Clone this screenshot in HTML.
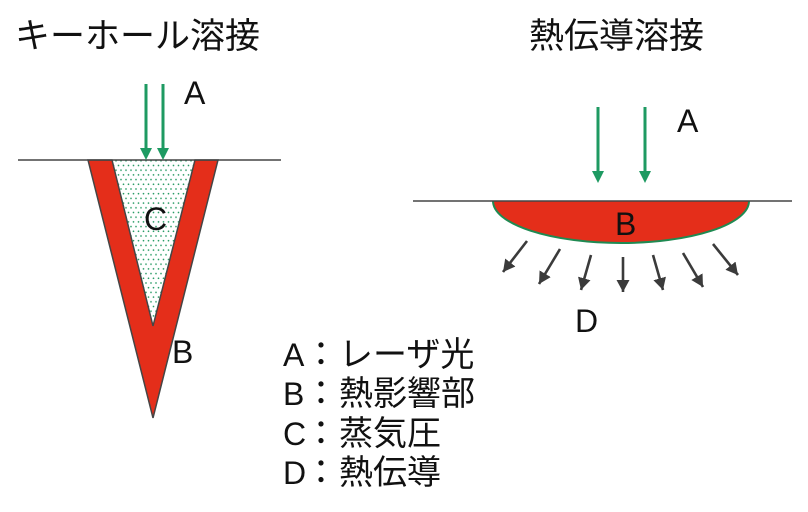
<!DOCTYPE html>
<html><head><meta charset="utf-8"><style>
html,body{margin:0;padding:0;background:#fff;}
svg{display:block;}
text{font-family:"Liberation Sans","Noto Sans CJK JP",sans-serif;fill:#111;}
</style></head><body>
<svg width="808" height="512" viewBox="0 0 808 512" xmlns="http://www.w3.org/2000/svg">
<defs>
<pattern id="dots" x="0" y="0" width="5" height="9.4" patternUnits="userSpaceOnUse">
<circle cx="1" cy="1" r="0.85" fill="#2a9c66"/>
<circle cx="3.5" cy="5.7" r="0.85" fill="#2a9c66"/>
</pattern>
<marker id="ga" markerUnits="userSpaceOnUse" markerWidth="16" markerHeight="16" refX="12" refY="6.5" orient="auto">
<path d="M0,0 L12,6.5 L0,13 z" fill="#3b3b3b"/>
</marker>
</defs>

<!-- Titles -->
<text x="15" y="48" font-size="35">キーホール溶接</text>
<text x="529" y="48" font-size="35">熱伝導溶接</text>

<!-- Left keyhole -->
<polygon points="112,160 195,160 153,326" fill="url(#dots)"/>
<polygon points="88,160 112,160 153,326 195,160 218,160 153,418" fill="#e42e1a" stroke="#454545" stroke-width="1.5" stroke-linejoin="miter"/>
<line x1="18" y1="160" x2="281" y2="160" stroke="#454545" stroke-width="1.6"/>
<!-- green arrows left -->
<line x1="146" y1="84" x2="146" y2="150" stroke="#1e9a62" stroke-width="3"/>
<polygon points="140,148 152,148 146,160" fill="#1e9a62"/>
<line x1="163" y1="84" x2="163" y2="150" stroke="#1e9a62" stroke-width="3"/>
<polygon points="157,148 169,148 163,160" fill="#1e9a62"/>

<text x="184" y="104" font-size="32">A</text>
<text x="144" y="230" font-size="32">C</text>
<text x="172" y="363" font-size="32">B</text>

<!-- Right conduction -->
<path d="M493,201 A128,42 0 0 0 749,201 Z" fill="#e42e1a" stroke="none"/>
<path d="M493,201 A128,42 0 0 0 749,201" fill="none" stroke="#1f8a52" stroke-width="2"/>
<line x1="413" y1="201" x2="792" y2="201" stroke="#454545" stroke-width="1.6"/>
<line x1="598" y1="107" x2="598" y2="173" stroke="#1e9a62" stroke-width="3"/>
<polygon points="592,171 604,171 598,183" fill="#1e9a62"/>
<line x1="645" y1="107" x2="645" y2="173" stroke="#1e9a62" stroke-width="3"/>
<polygon points="639,171 651,171 645,183" fill="#1e9a62"/>
<text x="677" y="132" font-size="32">A</text>
<text x="615" y="235" font-size="32">B</text>

<!-- gray heat arrows -->
<g stroke="#3b3b3b" stroke-width="2.6" marker-end="url(#ga)">
<line x1="527" y1="241" x2="503" y2="272"/>
<line x1="560" y1="249" x2="539" y2="284"/>
<line x1="591" y1="255" x2="581" y2="290"/>
<line x1="623" y1="257" x2="623" y2="292"/>
<line x1="653" y1="255" x2="663" y2="290"/>
<line x1="683" y1="253" x2="703" y2="287"/>
<line x1="713" y1="244" x2="738" y2="275"/>
</g>
<text x="575" y="332" font-size="32">D</text>

<!-- Legend -->
<g font-size="32">
<text x="283" y="366">A</text>
<text x="283" y="405">B</text>
<text x="283" y="445">C</text>
<text x="283" y="484">D</text>
</g>
<g font-size="34">
<text x="304" y="366">：</text>
<text x="304" y="405">：</text>
<text x="304" y="445">：</text>
<text x="304" y="484">：</text>
<text x="339" y="366">レーザ光</text>
<text x="339" y="405">熱影響部</text>
<text x="339" y="445">蒸気圧</text>
<text x="339" y="484">熱伝導</text>
</g>
</svg>
</body></html>
